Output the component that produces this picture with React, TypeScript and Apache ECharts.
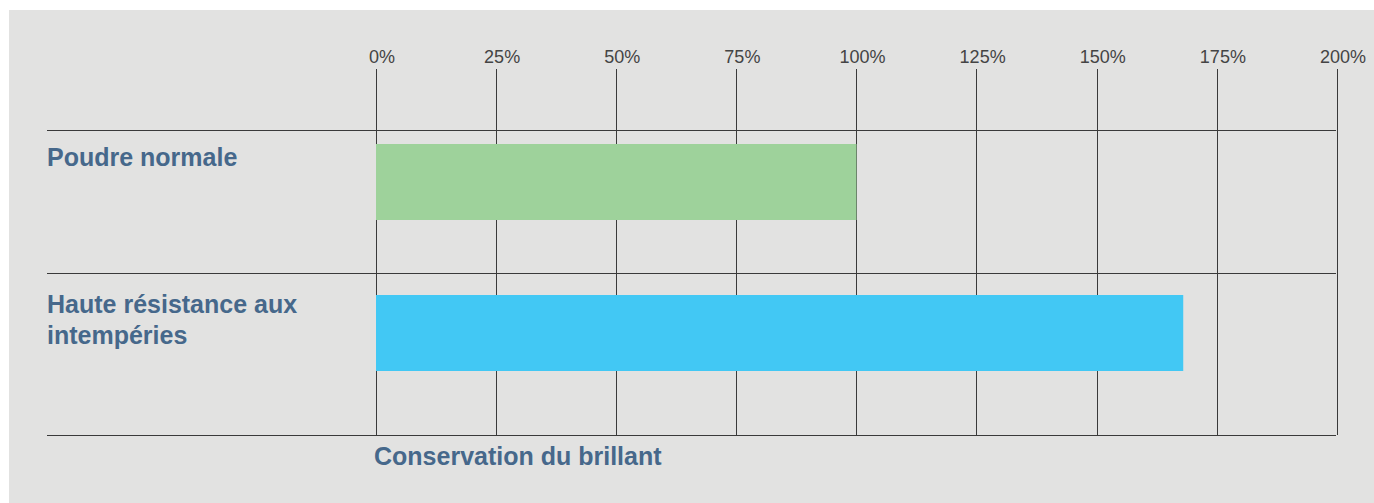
import React, { useEffect, useRef } from "react";
import * as echarts from "echarts";

const categories = ["Poudre normale", "Haute résistance aux\nintempéries"];
const values = [100, 168];
const barColors = ["#9ed29b", "#42c8f4"];
const tickMin = 0;
const tickMax = 200;
const tickStep = 25;
const axisTitle = "Conservation du brillant";

const TEXT_COLOR = "#46688b";
const LINE_COLOR = "#3a3a3a";
const FONT = "'Liberation Sans', Arial, Helvetica, sans-serif";

export default function App() {
  const ref = useRef<HTMLDivElement>(null);

  useEffect(() => {
    if (!ref.current) return;
    const chart = echarts.init(ref.current, undefined, { renderer: "svg" });
    const option: any = {
      animation: false,
      backgroundColor: "#ffffff",
      textStyle: { fontFamily: FONT },
      title: {
        text: axisTitle,
        left: 374,
        top: 443,
        padding: 0,
        textStyle: { fontFamily: FONT, fontSize: 25, fontWeight: "bold", color: TEXT_COLOR },
      },
      graphic: [
        { type: "rect", z: -100, silent: true, shape: { x: 9, y: 10, width: 1365, height: 493 }, style: { fill: "#e2e2e1" } },
        { type: "line", z: 100, silent: true, shape: { x1: 47, y1: 130.5, x2: 1336, y2: 130.5 }, style: { stroke: LINE_COLOR, lineWidth: 1.2 } },
        { type: "line", z: 100, silent: true, shape: { x1: 47, y1: 273.5, x2: 1336, y2: 273.5 }, style: { stroke: LINE_COLOR, lineWidth: 1.2 } },
        { type: "line", z: 100, silent: true, shape: { x1: 47, y1: 435.5, x2: 1336, y2: 435.5 }, style: { stroke: LINE_COLOR, lineWidth: 1.2 } },
      ],
      grid: [
        { left: 376, right: 37, top: 69, bottom: 68, containLabel: false },
        { left: 376, right: 37, top: 182, bottom: 170, containLabel: false },
      ],
      xAxis: [
        {
          gridIndex: 0,
          type: "value",
          position: "top",
          min: tickMin,
          max: tickMax,
          interval: tickStep,
          axisLine: { show: false },
          axisTick: { show: false },
          axisLabel: {
            formatter: "{value}%",
            fontFamily: FONT,
            fontSize: 18,
            color: "#444444",
            margin: 3,
            padding: [0, 0, 0, 12],
          },
          splitLine: { show: true, lineStyle: { color: LINE_COLOR, width: 1 } },
        },
        { gridIndex: 1, type: "value", min: tickMin, max: tickMax, show: false },
      ],
      yAxis: [
        { gridIndex: 0, type: "value", show: false },
        {
          gridIndex: 1,
          type: "category",
          inverse: true,
          boundaryGap: false,
          data: categories,
          axisLine: { show: false },
          axisTick: { show: false },
          splitLine: { show: false },
          axisLabel: {
            align: "left",
            margin: 329,
            formatter: (v: string) => {
              const lines = v.split("\n");
              if (lines.length === 1) return `{a|${lines[0]}}`;
              return lines.map((l) => `{b|${l}}`).join("\n");
            },
            rich: {
              a: { fontFamily: FONT, fontSize: 25, fontWeight: "bold", color: TEXT_COLOR, lineHeight: 31, padding: [0, 0, 50, 0] },
              b: { fontFamily: FONT, fontSize: 25, fontWeight: "bold", color: TEXT_COLOR, lineHeight: 31, padding: [0, 0, 28, 0] },
            },
          },
        },
      ],
      series: [
        {
          type: "bar",
          xAxisIndex: 1,
          yAxisIndex: 1,
          data: values,
          barWidth: 76,
          itemStyle: { color: (p: any) => barColors[p.dataIndex] },
        },
      ],
    };
    chart.setOption(option);
    return () => chart.dispose();
  }, []);

  return (
    <div
      ref={ref}
      style={{ position: "fixed", left: 0, top: 0, width: 1374, height: 503 }}
    />
  );
}
